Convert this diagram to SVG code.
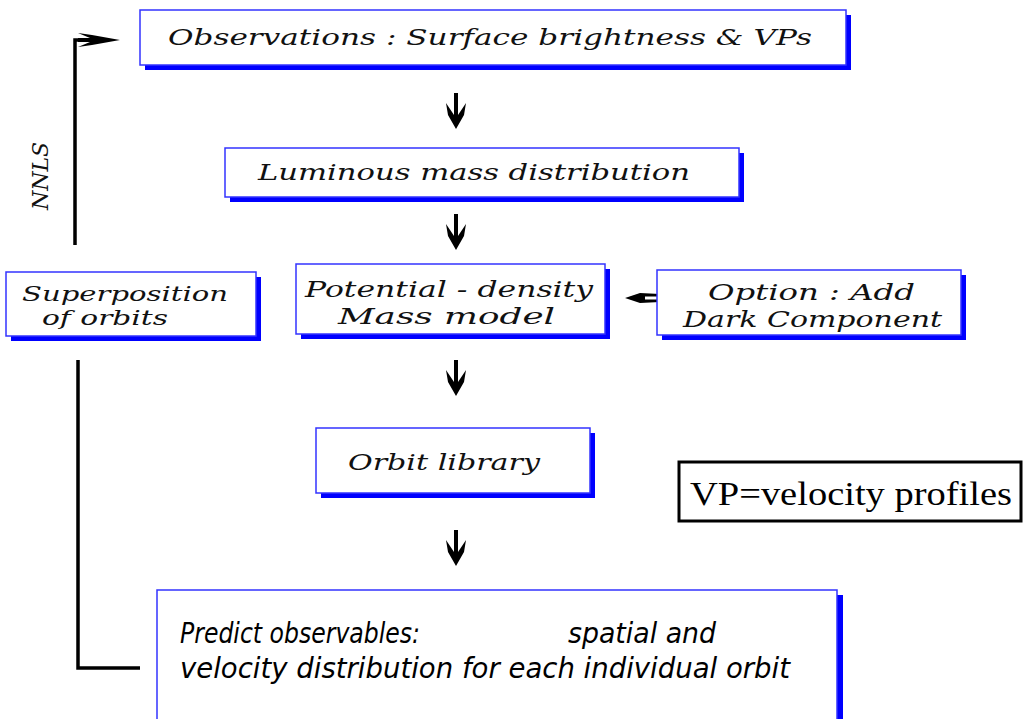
<svg xmlns="http://www.w3.org/2000/svg" width="1025" height="719" viewBox="0 0 1025 719">
<style>
.shadow{fill:#0000ff;stroke:none}
.box{fill:#fff;stroke:#3333ff;stroke-width:1.5}
.t{font-family:"DejaVu Serif","Liberation Serif",serif;font-style:italic;font-size:22px;fill:#111}
.p{font-family:"DejaVu Sans","Liberation Sans",sans-serif;font-style:italic;font-size:28px;fill:#000}
.line{fill:none;stroke:#000;stroke-width:3.5}
.ah{fill:#000;stroke:none}
</style>
<defs>
<g id="down">
<path class="ah" d="M-2,0 H2 V22 L10,10 L8,22 L0,36 L-8,22 L-10,10 L-2,22 Z"/>
</g>
</defs>
<g id="connectors">
<use href="#down" x="456" y="93"/>
<use href="#down" x="456" y="214"/>
<use href="#down" x="456" y="360"/>
<use href="#down" x="456" y="530"/>
<polyline class="line" points="75,245 75,40 100,40"/>
<path class="ah" d="M78,33 L92,35 L120,40 L92,45 L78,47 L90,42 L78,42 L78,38 L90,38 Z"/>
<polyline class="line" points="78,360 78,668 140,668"/>
<path class="ah" d="M625,298 L640,293 L660,294 L660,296.5 L645,296.5 L645,299.5 L660,299.5 L660,302 L640,303 Z"/>
</g>
<g id="nnls">
<text class="t" style="font-size:22px" transform="translate(48,210) rotate(-90)">NNLS</text>
</g>
<g id="obs">
<rect class="shadow" x="145" y="15" width="706" height="55"/>
<rect class="box" x="140" y="10" width="706" height="55"/>
<text class="t" x="168" y="45" textLength="644" lengthAdjust="spacingAndGlyphs">Observations  :  Surface brightness  &amp;  VPs</text>
</g>
<g id="lum">
<rect class="shadow" x="230" y="153" width="514" height="49"/>
<rect class="box" x="225" y="148" width="514" height="49"/>
<text class="t" x="258" y="180" textLength="432" lengthAdjust="spacingAndGlyphs">Luminous  mass  distribution</text>
</g>
<g id="pot">
<rect class="shadow" x="301" y="269" width="309" height="70"/>
<rect class="box" x="296" y="264" width="309" height="70"/>
<text class="t" x="305" y="297" textLength="288" lengthAdjust="spacingAndGlyphs">Potential  -  density</text>
<text class="t" x="338" y="324" textLength="217" lengthAdjust="spacingAndGlyphs">Mass  model</text>
</g>
<g id="opt">
<rect class="shadow" x="662" y="275" width="304" height="65"/>
<rect class="box" x="657" y="270" width="304" height="65"/>
<text class="t" x="708" y="300" textLength="207" lengthAdjust="spacingAndGlyphs">Option  :  Add</text>
<text class="t" x="683" y="327" textLength="259" lengthAdjust="spacingAndGlyphs">Dark  Component</text>
</g>
<g id="sup">
<rect class="shadow" x="11" y="277" width="250" height="64"/>
<rect class="box" x="6" y="272" width="250" height="64"/>
<text class="t" style="font-size:20px" x="22" y="301" textLength="206" lengthAdjust="spacingAndGlyphs">Superposition</text>
<text class="t" style="font-size:20px" x="42" y="325" textLength="126" lengthAdjust="spacingAndGlyphs">of  orbits</text>
</g>
<g id="orb">
<rect class="shadow" x="321" y="433" width="274" height="65"/>
<rect class="box" x="316" y="428" width="274" height="65"/>
<text class="t" x="348" y="470" textLength="192" lengthAdjust="spacingAndGlyphs">Orbit  library</text>
</g>
<g id="pred">
<rect class="shadow" x="162" y="595" width="681" height="130"/>
<rect class="box" x="157" y="590" width="680" height="140"/>
<text class="p" x="180" y="643" textLength="240" lengthAdjust="spacingAndGlyphs">Predict observables:</text>
<text class="p" x="568" y="643" textLength="148" lengthAdjust="spacingAndGlyphs">spatial and</text>
<text class="p" x="180" y="678" textLength="610" lengthAdjust="spacingAndGlyphs">velocity distribution for each individual orbit</text>
</g>
<g id="vp">
<rect x="679" y="462" width="342" height="59" fill="#fff" stroke="#000" stroke-width="3"/>
<text x="690" y="505" font-family="Liberation Serif, serif" font-size="34" fill="#000" textLength="322" lengthAdjust="spacingAndGlyphs">VP=velocity profiles</text>
</g>
</svg>
